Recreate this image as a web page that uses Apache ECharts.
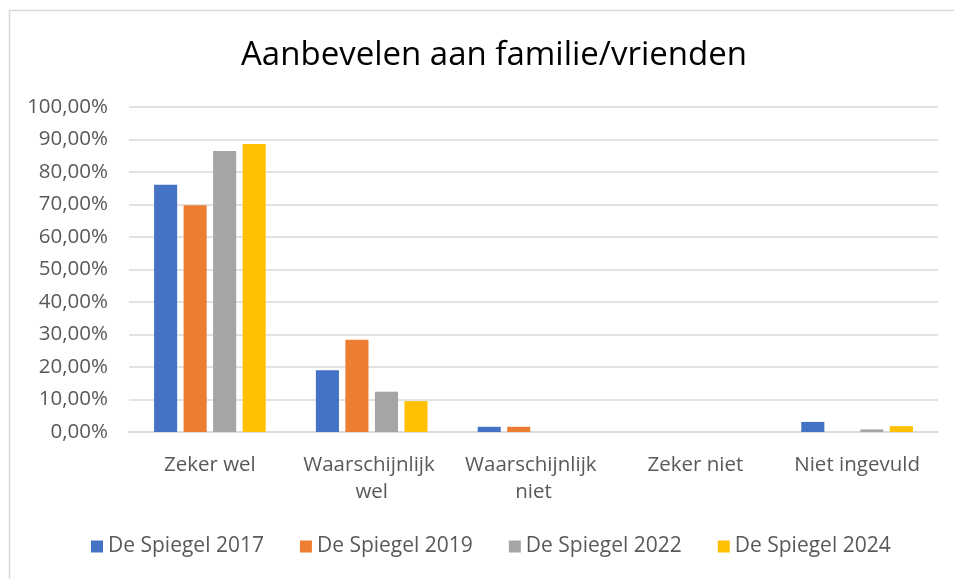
<!DOCTYPE html>
<html>
<head>
<meta charset="utf-8">
<script src="https://cdn.jsdelivr.net/npm/echarts@6/dist/echarts.min.js"></script>
<style>
html,body{margin:0;padding:0;background:#fff;}
#chart{width:954px;height:579px;}
</style>
</head>
<body>
<div id="chart"></div>
<script>
const titleText = 'Aanbevelen aan familie/vrienden';
const categories = ['Zeker wel', 'Waarschijnlijk wel', 'Waarschijnlijk niet', 'Zeker niet', 'Niet ingevuld'];
const seriesNames = ['De Spiegel 2017', 'De Spiegel 2019', 'De Spiegel 2022', 'De Spiegel 2024'];
const values2017 = [0.761, 0.190, 0.016, 0, 0.031];
const values2019 = [0.698, 0.284, 0.016, 0, 0];
const values2022 = [0.865, 0.124, 0, 0, 0.008];
const values2024 = [0.886, 0.095, 0, 0, 0.018];
const colors = ['#4472C4', '#ED7D31', '#A5A5A5', '#FFC000'];

const FONT = 'Open Sans';
const chart = echarts.init(document.getElementById('chart'));
const allValues = [values2017, values2019, values2022, values2024];
chart.setOption({
  animation: false,
  color: colors,
  graphic: [{
    type: 'rect',
    left: 7, top: 8,
    shape: {width: 980, height: 620},
    style: {fill: 'none', stroke: '#D9D9D9', lineWidth: 1.5},
    silent: true
  }],
  title: {
    text: titleText,
    left: 236,
    top: 34,
    textStyle: {fontFamily: FONT, fontSize: 33, fontWeight: 'normal', color: '#000'}
  },
  legend: {
    bottom: 17,
    left: 86,
    itemWidth: 12,
    itemHeight: 12,
    itemGap: 36,
    icon: 'rect',
    textStyle: {fontFamily: FONT, fontSize: 21, color: '#595959'},
    data: seriesNames
  },
  grid: {left: 129, right: 16, top: 107, bottom: 147, containLabel: false},
  xAxis: {
    type: 'category',
    data: categories,
    axisLine: {lineStyle: {color: '#D9D9D9', width: 1.5}},
    axisTick: {show: false},
    axisLabel: {
      fontFamily: FONT, fontSize: 20.5, color: '#595959', margin: 20,
      width: 150, overflow: 'break', lineHeight: 27, interval: 0
    }
  },
  yAxis: {
    type: 'value',
    min: 0, max: 1, interval: 0.1,
    axisLine: {show: false},
    axisTick: {show: false},
    splitLine: {lineStyle: {color: '#D9D9D9', width: 1.5}},
    axisLabel: {
      fontFamily: FONT, fontSize: 20.5, color: '#595959', margin: 21,
      formatter: v => (v * 100).toFixed(2).replace('.', ',') + '%'
    }
  },
  series: seriesNames.map((name, i) => ({
    name: name,
    type: 'bar',
    data: allValues[i],
    barGap: '28%',
    barCategoryGap: '31%'
  }))
});
</script>
</body>
</html>
